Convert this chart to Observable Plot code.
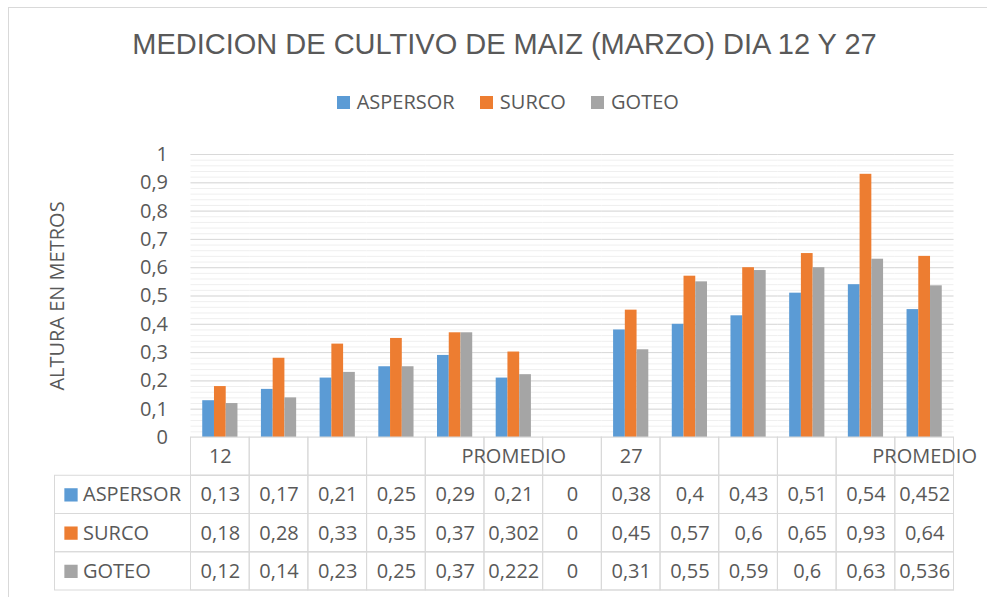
<!DOCTYPE html>
<html><head><meta charset="utf-8">
<script src="https://cdn.jsdelivr.net/npm/d3@7"></script>
<script src="https://cdn.jsdelivr.net/npm/@observablehq/plot@0.6"></script>
<style>
html,body{margin:0;padding:0;background:#fff;}
#wrap{position:relative;width:987px;height:597px;overflow:hidden;font-family:"Open Sans",sans-serif;color:#595959;}
#border{position:absolute;left:8px;top:7px;width:1100px;height:700px;border:1px solid #d9d9d9;}
#title{position:absolute;top:28px;left:504.5px;transform:translateX(-50%);white-space:nowrap;font-family:"Liberation Sans",Arial,sans-serif;font-size:29px;}
#legend{position:absolute;top:88px;left:337px;display:flex;align-items:center;font-size:20px;white-space:nowrap;}
.item{display:flex;align-items:center;margin-right:25.5px;}
.sw{width:13px;height:13px;margin-right:6.7px;margin-top:2px;}
#chart{position:absolute;left:0;top:130px;}
#table{position:absolute;left:0;top:436px;}
</style></head>
<body>
<div id="wrap">
  <div id="border"></div>
  <div id="title">MEDICION DE CULTIVO DE MAIZ (MARZO) DIA 12 Y 27</div>
  <div id="legend"></div>
  <div id="chart"></div>
  <div id="table"></div>
</div>
<script>
const categories = ["12", "", "", "", "", "PROMEDIO", "", "27", "", "", "", "", "PROMEDIO"];
const seriesNames = ["ASPERSOR", "SURCO", "GOTEO"];
const aspersor = [0.13, 0.17, 0.21, 0.25, 0.29, 0.21, 0, 0.38, 0.4, 0.43, 0.51, 0.54, 0.452];
const surco = [0.18, 0.28, 0.33, 0.35, 0.37, 0.302, 0, 0.45, 0.57, 0.6, 0.65, 0.93, 0.64];
const goteo = [0.12, 0.14, 0.23, 0.25, 0.37, 0.222, 0, 0.31, 0.55, 0.59, 0.6, 0.63, 0.536];
const seriesColors = ["#5b9bd5", "#ed7d31", "#a5a5a5"];
const yTicks = [0, 0.1, 0.2, 0.3, 0.4, 0.5, 0.6, 0.7, 0.8, 0.9, 1];
const yLabel = "ALTURA EN METROS";

const values = [aspersor, surco, goteo];
const cols = categories.map((c, i) => i);
const data = seriesNames.flatMap((s, si) => values[si].map((v, i) => ({col: i, series: s, value: v})));
const fmt = v => String(+v.toFixed(3)).replace(".", ",");
const minorTicks = d3.ticks(0, 1, 50);

// legend
const legend = document.getElementById("legend");
seriesNames.forEach((s, i) => {
  const it = document.createElement("div");
  it.className = "item";
  const sw = document.createElement("div");
  sw.className = "sw";
  sw.style.background = seriesColors[i];
  const t = document.createElement("span");
  t.textContent = s;
  it.appendChild(sw); it.appendChild(t);
  legend.appendChild(it);
});

const style = {fontFamily: '"Open Sans", sans-serif', fontSize: "20px", color: "#595959", background: "transparent", overflow: "visible"};

const chart = Plot.plot({
  width: 987, height: 310,
  marginTop: 24, marginBottom: 3, marginLeft: 190.5, marginRight: 33.5,
  style,
  fx: {domain: cols, padding: 0, round: false, axis: null, label: null},
  x: {domain: seriesNames, paddingInner: 0, paddingOuter: 1, round: false, axis: null, label: null},
  y: {domain: [0, 1], ticks: yTicks, tickFormat: fmt, tickSize: 0, tickPadding: 23,
      label: yLabel, labelAnchor: "center", labelOffset: 141, labelArrow: "none"},
  color: {domain: seriesNames, range: seriesColors},
  marks: [
    Plot.ruleY(minorTicks, {stroke: "#efefef", strokeWidth: 1}),
    Plot.ruleY(yTicks.slice(1), {stroke: "#d9d9d9", strokeWidth: 1}),
    Plot.barY(data, {fx: "col", x: "series", y: "value", fill: "series"})
  ]
});
document.getElementById("chart").appendChild(chart);

const rowNames = ["cat", ...seriesNames];
const headerCells = cols.map(i => ({col: i, label: categories[i]}));
const table = Plot.plot({
  width: 987, height: 161,
  marginTop: 1, marginBottom: 7, marginLeft: 190.5, marginRight: 33.5,
  style,
  x: {type: "band", domain: cols, padding: 0, round: false, axis: null},
  y: {type: "band", domain: rowNames, padding: 0, round: false, axis: null},
  color: {domain: seriesNames, range: seriesColors},
  marks: [
    Plot.cell(seriesNames, {y: d => d, insetLeft: -136, stroke: "#d9d9d9", fill: "none"}),
    Plot.cell(headerCells, {x: "col", y: () => "cat", stroke: "#d9d9d9", fill: "none"}),
    Plot.cell(data, {x: "col", y: "series", stroke: "#d9d9d9", fill: "none"}),
    Plot.text(headerCells, {x: "col", y: () => "cat", text: "label"}),
    Plot.text(data, {x: "col", y: "series", text: d => fmt(d.value)}),
    Plot.dot(seriesNames, {y: d => d, frameAnchor: "left", dx: -120, symbol: "square", r: 7.5, fill: d => d}),
    Plot.text(seriesNames, {y: d => d, frameAnchor: "left", dx: -108, textAnchor: "start", text: d => d})
  ]
});
document.getElementById("table").appendChild(table);
</script>
</body></html>
